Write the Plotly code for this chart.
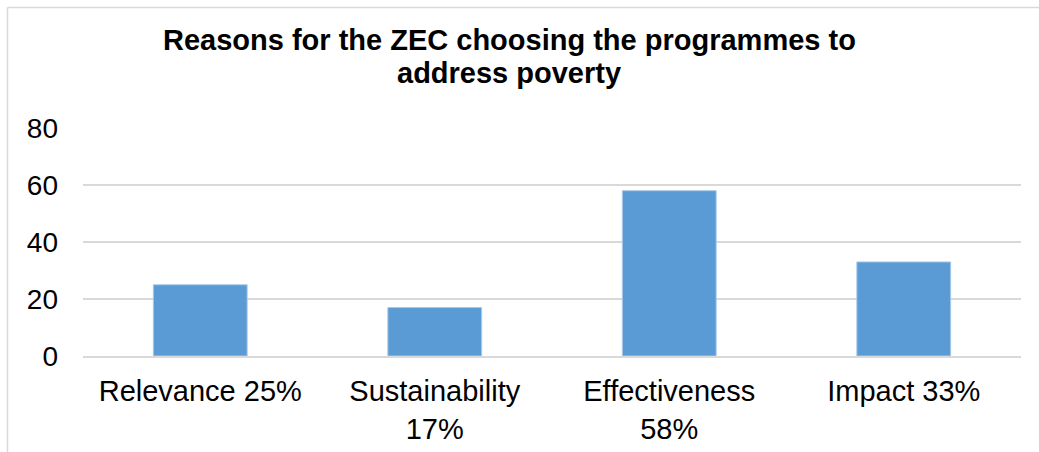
import plotly.graph_objects as go

# Reasons given for choosing programmes (percent of respondents)
categories = ["Relevance 25%", "Sustainability<br>17%", "Effectiveness<br>58%", "Impact 33%"]
values = [25, 17, 58, 33]
y_ticks = [0, 20, 40, 60, 80]
title_lines = ["Reasons for the ZEC choosing the programmes to", "address poverty"]

FONT = "Arial, Liberation Sans, sans-serif"
GRID = "#d9d9d9"

# plot-area geometry in pixels, used to place items outside the axes
PLOT_L, PLOT_R, PLOT_TOP, PLOT_BOTTOM = 83, 1021, 128, 356
W, H = 1039, 452


def px_x(x):
    return (x - PLOT_L) / (PLOT_R - PLOT_L)


def px_y(y):
    return (PLOT_BOTTOM - y) / (PLOT_BOTTOM - PLOT_TOP)


fig = go.Figure(
    go.Bar(
        x=categories,
        y=values,
        marker=dict(color="#5b9bd5", line=dict(color="#a8c8ea", width=1)),
        hoverinfo="x+y",
    )
)

annotations = [
    dict(text=f"<b>{line}</b>", xref="paper", yref="paper",
         x=px_x(509), y=px_y(yc), xanchor="center", yanchor="middle",
         showarrow=False, font=dict(family=FONT, size=29, color="#000000"))
    for line, yc in zip(title_lines, [40, 73])
]

fig.update_layout(
    width=W,
    height=H,
    margin=dict(l=PLOT_L, r=W - PLOT_R, t=PLOT_TOP, b=H - PLOT_BOTTOM),
    paper_bgcolor="white",
    plot_bgcolor="white",
    bargap=0.6,
    showlegend=False,
    font=dict(family=FONT, size=28, color="#000000"),
    annotations=annotations,
    xaxis=dict(
        automargin=False,
        showgrid=False,
        showline=True,
        linecolor=GRID,
        linewidth=2,
        ticks="",
        ticklabelstandoff=8,
        tickfont=dict(family=FONT, size=29),
    ),
    yaxis=dict(
        automargin=False,
        range=[0, 80],
        tickvals=y_ticks,
        showgrid=True,
        gridcolor=GRID,
        gridwidth=2,
        zeroline=False,
        showline=False,
        ticks="",
        ticklabelstandoff=24,
        tickfont=dict(family=FONT, size=28),
    ),
    shapes=[
        # chart-area frame (left and top edges)
        dict(type="line", xref="paper", yref="paper",
             x0=px_x(7.5), x1=px_x(7.5), y0=-0.6, y1=px_y(7.5),
             line=dict(color=GRID, width=1.5)),
        dict(type="line", xref="paper", yref="paper",
             x0=px_x(7.5), x1=1.1, y0=px_y(7.5), y1=px_y(7.5),
             line=dict(color=GRID, width=1.5)),
    ],
)

fig.write_html("out.html")
